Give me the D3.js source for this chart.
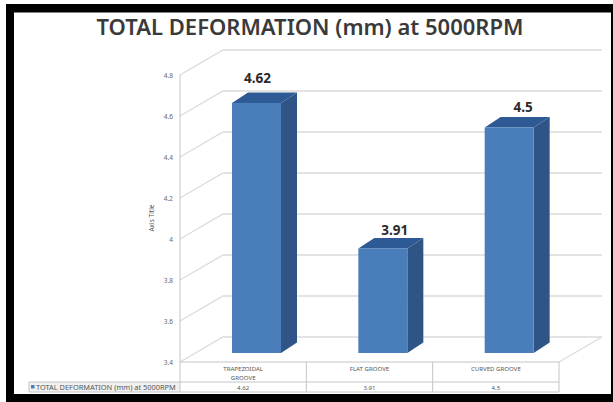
<!DOCTYPE html>
<html>
<head>
<meta charset="utf-8">
<style>
  html, body { margin: 0; padding: 0; background: #fff; }
  svg { display: block; }
  text { font-family: "Noto Sans", "Open Sans", sans-serif; }
</style>
<script src="https://cdn.jsdelivr.net/npm/d3@7/dist/d3.min.js"></script>
</head>
<body>
<svg id="chart" width="613" height="402"></svg>
<script>
const chartTitle = "TOTAL DEFORMATION (mm) at 5000RPM";
const seriesName = "TOTAL DEFORMATION (mm) at 5000RPM";
const axisTitle = "Axis Title";
const categories = ["TRAPEZOIDAL GROOVE", "FLAT GROOVE", "CURVED GROOVE"];
const categoryLines = [["TRAPEZOIDAL", "GROOVE"], ["FLAT GROOVE"], ["CURVED GROOVE"]];
const deformation = [4.62, 3.91, 4.5];
const tickValues = [3.4, 3.6, 3.8, 4, 4.2, 4.4, 4.6, 4.8];

const svg = d3.select("#chart");

// Plot geometry: front plane of the box, wall depth, and bar placement
const front = { left: 180, right: 559, bottom: 362, top: 75 };
const wall = { dx: 43, dy: -25 };
const bar = { inset: 52, width: 49, lift: -9, dx: 16, dy: -10.5 };
const labelNudge = [[1, -24], [12, -18], [14, -20]];
const gridColor = "#dcdcdc";
const frameColor = "#c4c4c4";

const y = d3.scaleLinear().domain([3.4, 4.8]).range([front.bottom, front.top]);
const x = d3.scaleBand().domain(categories).range([front.left, front.right]);

// Black picture frame, inset from the top and left edges
svg.append("rect").attr("x", 6).attr("y", 4).attr("width", 607).attr("height", 398).attr("fill", "#000");
svg.append("rect").attr("x", 14).attr("y", 12.5).attr("width", 597).attr("height", 381.5).attr("fill", "#fff");

svg.append("text")
  .attr("x", 310).attr("y", 35)
  .attr("text-anchor", "middle")
  .attr("font-size", 22).attr("font-weight", 600)
  .attr("fill", "#3a3a3a")
  .text(chartTitle);

// Wall and side gridlines, one L-shaped path per tick
svg.append("g").selectAll("path").data(tickValues).join("path")
  .attr("fill", "none").attr("stroke", gridColor).attr("stroke-width", 1.4)
  .attr("d", d => {
    const p = d3.path();
    p.moveTo(front.left, y(d));
    p.lineTo(front.left + wall.dx, y(d) + wall.dy);
    p.lineTo(front.right + wall.dx, y(d) + wall.dy);
    return p.toString();
  });

// Floor edge on the right-hand side
svg.append("line")
  .attr("x1", front.right).attr("y1", front.bottom)
  .attr("x2", front.right + wall.dx).attr("y2", front.bottom + wall.dy)
  .attr("stroke", gridColor).attr("stroke-width", 1.4);

// Value axis labels
const yAxis = d3.axisLeft(y).tickValues(tickValues).tickSize(0).tickPadding(7).tickFormat(d3.format("~g"));
const axisG = svg.append("g").attr("transform", `translate(${front.left},0)`).call(yAxis);
axisG.select(".domain").remove();
axisG.selectAll("text").attr("font-size", 6.5).attr("fill", "#666").style("font-family", '"Noto Sans", sans-serif');

svg.append("text")
  .attr("transform", "translate(154,218) rotate(-90)")
  .attr("text-anchor", "middle")
  .attr("font-size", 6.5).attr("fill", "#555")
  .text(axisTitle);

// Data table under the plot
const tableTop = front.bottom, rowSplit = 382, tableBottom = 392, legendLeft = 29;
svg.append("rect").attr("x", legendLeft).attr("y", rowSplit)
  .attr("width", front.left - legendLeft).attr("height", tableBottom - rowSplit).attr("fill", "#f1f1f1");
const tableLines = svg.append("g").attr("stroke", frameColor).attr("stroke-width", 1);
x.domain().forEach(c => {
  tableLines.append("line").attr("x1", x(c) + x.bandwidth()).attr("x2", x(c) + x.bandwidth())
    .attr("y1", tableTop).attr("y2", tableBottom);
});
tableLines.append("line").attr("x1", front.left).attr("x2", front.left).attr("y1", front.top).attr("y2", tableBottom);
tableLines.append("line").attr("x1", front.left).attr("x2", front.right).attr("y1", tableTop).attr("y2", tableTop);
tableLines.append("line").attr("x1", legendLeft).attr("x2", front.right).attr("y1", rowSplit).attr("y2", rowSplit);
tableLines.append("line").attr("x1", legendLeft).attr("x2", front.right).attr("y1", tableBottom).attr("y2", tableBottom);
tableLines.append("line").attr("x1", legendLeft).attr("x2", legendLeft).attr("y1", rowSplit).attr("y2", tableBottom);

svg.selectAll("g.cat").data(categories).join("g").attr("class", "cat")
  .each(function (c, i) {
    const g = d3.select(this);
    const cx = x(c) + x.bandwidth() / 2;
    categoryLines[i].forEach((line, k) => {
      g.append("text").attr("x", cx).attr("y", 371 + k * 8.5)
        .attr("text-anchor", "middle").attr("font-size", 6.1).attr("fill", "#555").text(line);
    });
    g.append("text").attr("x", cx).attr("y", 389.5)
      .attr("text-anchor", "middle").attr("font-size", 6.1).attr("fill", "#555").text(deformation[i]);
  });

svg.append("rect").attr("x", 31).attr("y", 385).attr("width", 3.5).attr("height", 3.5).attr("fill", "#4a7ebb");
svg.append("text").attr("x", 36).attr("y", 389.7)
  .attr("font-size", 7.4).attr("fill", "#555").text(seriesName);

// Extruded bars: side face, top face, front face, then the value label
const bars = svg.selectAll("g.bar").data(deformation).join("g").attr("class", "bar");
const fx = (d, i) => x(categories[i]) + bar.inset;
const poly = pts => pts.map(p => p.join(",")).join(" ");

bars.append("polygon").attr("fill", "#2f5587")
  .attr("points", (d, i) => {
    const r = fx(d, i) + bar.width, t = y(d) + bar.lift, b = y(3.4) + bar.lift;
    return poly([[r, t], [r + bar.dx, t + bar.dy], [r + bar.dx, b + bar.dy], [r, b]]);
  });
bars.append("polygon").attr("fill", "#2d5a94")
  .attr("points", (d, i) => {
    const l = fx(d, i), t = y(d) + bar.lift;
    return poly([[l, t], [l + bar.width, t], [l + bar.width + bar.dx, t + bar.dy], [l + bar.dx, t + bar.dy]]);
  });
bars.append("rect").attr("fill", "#4a7ebb")
  .attr("x", fx).attr("width", bar.width)
  .attr("y", d => y(d) + bar.lift)
  .attr("height", d => y(3.4) - y(d));
bars.append("text")
  .attr("x", (d, i) => fx(d, i) + bar.width / 2 + labelNudge[i][0])
  .attr("y", (d, i) => y(d) + bar.lift + labelNudge[i][1] + 4.5)
  .attr("text-anchor", "middle")
  .attr("font-size", 13.5).attr("font-weight", 700).attr("fill", "#2b2b2b")
  .text(d => d);
</script>
</body>
</html>
